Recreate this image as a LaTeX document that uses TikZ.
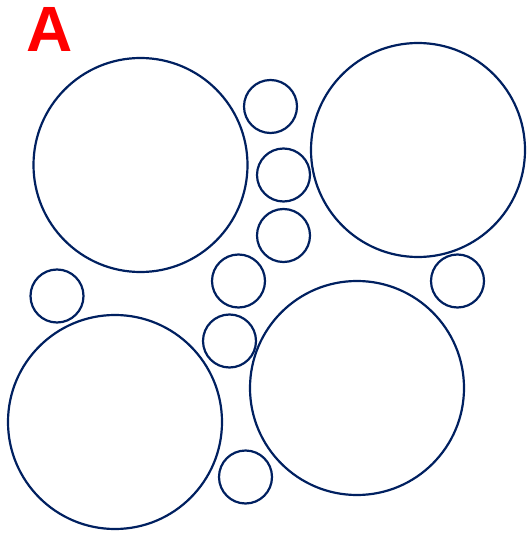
\documentclass[tikz,border=0pt]{standalone}
\usepackage{fontspec}
\setmainfont{Liberation Sans}
\usepackage{tikz}
\usetikzlibrary{positioning}
\definecolor{navy}{HTML}{002060}

\begin{document}
\begin{tikzpicture}[x=1pt, y=-1pt,
		bigcirc/.style={circle, draw=navy, line width=2.2pt, minimum size=214pt, inner sep=0pt},
		smallcirc/.style={circle, draw=navy, line width=2.2pt, minimum size=53pt, inner sep=0pt}]
		% 0. Fix the page size
		\useasboundingbox (0,0) rectangle (528,534);

		% 1. Panel letter
		\node[red, font=\bfseries\fontsize{64}{64}\selectfont, anchor=base, inner sep=0pt] (letter) at (49.5,52) {A};

		% 2. The four large circles
		\node[bigcirc] (big1) at (140.5,165) {};
		\node[bigcirc] (big2) at (418,150) {};
		\node[bigcirc] (big3) at (115,422) {};
		\node[bigcirc] (big4) at (357,388) {};

		% 3. The small circles in the gaps
		\node[smallcirc] (small1) at (270.5,106.5) {};
		\node[smallcirc] (small2) at (283.5,175) {};
		\node[smallcirc] (small3) at (283.5,235.5) {};
		\node[smallcirc] (small4) at (238.5,281) {};
		\node[smallcirc] (small5) at (57,296) {};
		\node[smallcirc] (small6) at (457.5,281) {};
		\node[smallcirc] (small7) at (229.5,341) {};
		\node[smallcirc] (small8) at (245.5,477) {};
	\end{tikzpicture}
\end{document}
